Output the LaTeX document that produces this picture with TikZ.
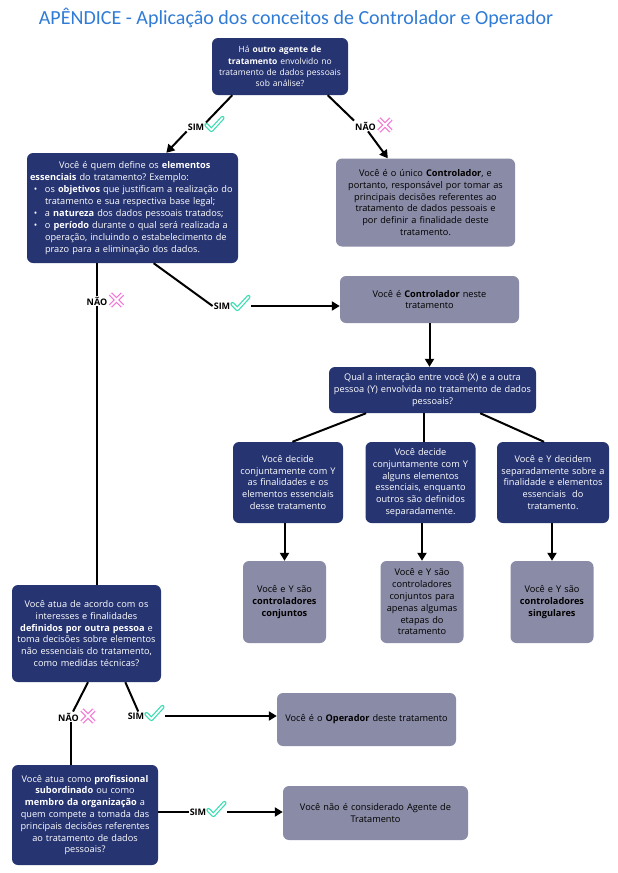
\documentclass[tikz,border=0pt]{standalone}
\usepackage{fontspec}
\setmainfont{Open Sans}
\newfontfamily\titlefont{Carlito}
\usepackage{xcolor}
\usepackage{tikz}
\usetikzlibrary{arrows.meta, positioning, calc}
\definecolor{navy}{HTML}{263472}
\definecolor{boxgray}{HTML}{8A8BA6}
\definecolor{titleblue}{HTML}{2F7BD6}
\definecolor{okgreen}{HTML}{36DDB0}
\definecolor{nopink}{HTML}{F27AD6}
\frenchspacing

\begin{document}
\begin{tikzpicture}[x=1pt, y=-1pt, >={Triangle[length=8pt,width=9pt]},
    qbox/.style={fill=navy, text=white, rounded corners=6pt, align=center, inner sep=3pt, font=\fontsize{9.2}{11.8}\selectfont},
    abox/.style={qbox, fill=boxgray, text=black},
    lbl/.style={font=\bfseries\fontsize{9}{10}\selectfont, inner sep=1pt},
    line/.style={line width=2pt},
    okmark/.pic={
      \draw[okgreen, line width=4.2pt, line cap=round, line join=round] (-8,0) -- (-3,5) -- (8,-7);
      \draw[white, line width=1.8pt, line cap=round, line join=round] (-8,0) -- (-3,5) -- (8,-7);
    },
    nomark/.pic={
      \draw[nopink, line width=4.4pt] (-6,-6) -- (6,6) (-6,6) -- (6,-6);
      \draw[white, line width=2pt] (-6,-6) -- (6,6) (-6,6) -- (6,-6);
    }]
    \useasboundingbox (0,0) rectangle (618,873);

    \node[font=\titlefont\fontsize{20}{24}\selectfont, text=titleblue] (titulo) at (296,18) {APÊNDICE - Aplicação dos conceitos de Controlador e Operador};

    % perguntas e respostas
    \node[qbox, text width=130pt, minimum height=57pt, font=\fontsize{8.5}{11.3}\selectfont] (outro) at (280,66.5) {Há \textbf{outro agente de}\\ \textbf{tratamento} envolvido no\\ tratamento de dados pessoais\\ sob análise?};

    \node[qbox, align=left, text width=205pt, minimum height=110pt, font=\fontsize{9.2}{12.1}\selectfont] (essenc) at (132.5,208) {\makebox[201pt][s]{\hspace*{29pt}Você é quem define os \textbf{elementos}}\\
      \textbf{essenciais} do tratamento? Exemplo:\\
      \hspace*{4pt}\makebox[11pt][l]{\textbullet}os \textbf{objetivos} que justificam a realização do\\
      \hspace*{15pt}tratamento e sua respectiva base legal;\\
      \hspace*{4pt}\makebox[11pt][l]{\textbullet}a \textbf{natureza} dos dados pessoais tratados;\\
      \hspace*{4pt}\makebox[11pt][l]{\textbullet}o \textbf{período} durante o qual será realizada a\\
      \hspace*{15pt}operação, incluindo o estabelecimento de\\
      \hspace*{15pt}prazo para a eliminação dos dados.};

    \node[abox, text width=173pt, minimum height=88pt] (unico) at (425.5,202.5) {Você é o único \textbf{Controlador}, e\\ portanto, responsável por tomar as\\ principais decisões referentes ao\\ tratamento de dados pessoais e\\ por definir a finalidade deste\\ tratamento.};

    \node[abox, text width=173pt, minimum height=47pt] (contr) at (429.5,299.5) {Você é \textbf{Controlador} neste\\ tratamento};

    \node[qbox, text width=201pt, minimum height=46pt] (inter) at (432.5,390) {Qual a interação entre você (X) e a outra\\ pessoa (Y) envolvida no tratamento de dados\\ pessoais?};

    \node[qbox, text width=104pt, minimum height=81pt] (conj) at (288,482.5) {Você decide\\ conjuntamente com Y\\ as finalidades e os\\ elementos essenciais\\ desse tratamento};
    \node[qbox, text width=104pt, minimum height=81pt] (parcial) at (420.5,482.5) {Você decide\\ conjuntamente com Y\\ alguns elementos\\ essenciais, enquanto\\ outros são definidos\\ separadamente.};
    \node[qbox, text width=106pt, minimum height=81pt] (separ) at (553,482.5) {Você e Y decidem\\ separadamente sobre a\\ finalidade e elementos\\ essenciais\ \ do\\ tratamento.};

    \node[abox, text width=77pt, minimum height=82pt] (rconj) at (284.5,602) {Você e Y são\\ \textbf{controladores}\\ \textbf{conjuntos}};
    \node[abox, text width=77pt, minimum height=82pt] (rparc) at (422,602) {Você e Y são\\ controladores\\ conjuntos para\\ apenas algumas\\ etapas do\\ tratamento};
    \node[abox, text width=77pt, minimum height=82pt] (rsing) at (552,602) {Você e Y são\\ \textbf{controladores}\\ \textbf{singulares}};

    \node[qbox, text width=143pt, minimum height=97pt] (atua) at (86.5,633.5) {Você atua de acordo com os\\ interesses e finalidades\\ \textbf{definidos por outra pessoa} e\\ toma decisões sobre elementos\\ não essenciais do tratamento,\\ como medidas técnicas?};

    \node[abox, text width=173pt, minimum height=53pt] (oper) at (366.5,719.5) {Você é o \textbf{Operador} deste tratamento};

    \node[qbox, text width=140pt, minimum height=100pt] (subord) at (85,815) {Você atua como \textbf{profissional}\\ \textbf{subordinado} ou como\\ \textbf{membro da organização} a\\ quem compete a tomada das\\ principais decisões referentes\\ ao tratamento de dados\\ pessoais?};

    \node[abox, text width=179pt, minimum height=54pt] (nagente) at (375.5,813) {Você não é considerado Agente de\\ Tratamento};

    % rotulos SIM / NAO
    \node[lbl] (sim1) at (206,127) {SIM\hspace*{20pt}};
    \pic at ($(sim1.east)+(-11,-2)$) {okmark};
    \node[lbl] (nao1) at (374,126) {NÃO\hspace*{17pt}};
    \pic at ($(nao1.east)+(-9,-1)$) {nomark};
    \node[lbl] (nao2) at (105.5,301) {NÃO\hspace*{17pt}};
    \pic at ($(nao2.east)+(-9,-1)$) {nomark};
    \node[lbl] (sim2) at (232,306) {SIM\hspace*{20pt}};
    \pic at ($(sim2.east)+(-11,-2)$) {okmark};
    \node[lbl] (nao3) at (77,717) {NÃO\hspace*{17pt}};
    \pic at ($(nao3.east)+(-9,-1)$) {nomark};
    \node[lbl] (sim3) at (146,716) {SIM\hspace*{20pt}};
    \pic at ($(sim3.east)+(-11,-2)$) {okmark};
    \node[lbl] (sim4) at (208,812) {SIM\hspace*{20pt}};
    \pic at ($(sim4.east)+(-11,-2)$) {okmark};

    % ligacoes
    \draw[line] ($(outro.south west)!.15!(outro.south east)$) -- (sim1.north);
    \draw[line, ->] (sim1.south west) -- ($(essenc.north west)!.66!(essenc.north east)$);
    \draw[line] ($(outro.south west)!.85!(outro.south east)$) -- (nao1.north west);
    \draw[line, ->] ($(nao1.south west)!.35!(nao1.south east)$) -- ($(unico.north west)!.29!(unico.north east)$);

    \coordinate (e1) at ($(essenc.south west)!.33!(essenc.south east)$);
    \draw[line] (e1) -- (e1 |- nao2.north);
    \draw[line] (e1 |- nao2.south) -- (e1 |- atua.north);
    \draw[line] ($(essenc.south west)!.6!(essenc.south east)$) -- (sim2.west);
    \draw[line, ->] (sim2.east) -- (sim2.east -| contr.west);

    \draw[line, ->] (contr.south) -- (contr.south |- inter.north);
    \draw[line] ($(inter.south west)!.18!(inter.south east)$) -- ($(conj.north west)!.54!(conj.north east)$);
    \coordinate (i2) at ($(inter.south west)!.46!(inter.south east)$);
    \draw[line] (i2) -- (i2 |- parcial.north);
    \draw[line] ($(inter.south west)!.73!(inter.south east)$) -- ($(separ.north west)!.42!(separ.north east)$);

    \draw[line, ->] (rconj.north |- conj.south) -- (rconj.north);
    \draw[line, ->] (rparc.north |- parcial.south) -- (rparc.north);
    \draw[line, ->] (rsing.north |- separ.south) -- (rsing.north);

    \draw[line] ($(atua.south west)!.51!(atua.south east)$) -- ($(nao3.north west)!.4!(nao3.north east)$);
    \coordinate (n3) at ($(nao3.south west)!.35!(nao3.south east)$);
    \draw[line] (n3) -- (n3 |- subord.north);
    \draw[line] ($(atua.south west)!.76!(atua.south east)$) -- ($(sim3.north west)!.3!(sim3.north east)$);
    \draw[line, ->] (sim3.east) -- (sim3.east -| oper.west);

    \draw[line] (sim4.west -| subord.east) -- (sim4.west);
    \draw[line, ->] (sim4.east) -- (sim4.east -| nagente.west);
\end{tikzpicture}
\end{document}
